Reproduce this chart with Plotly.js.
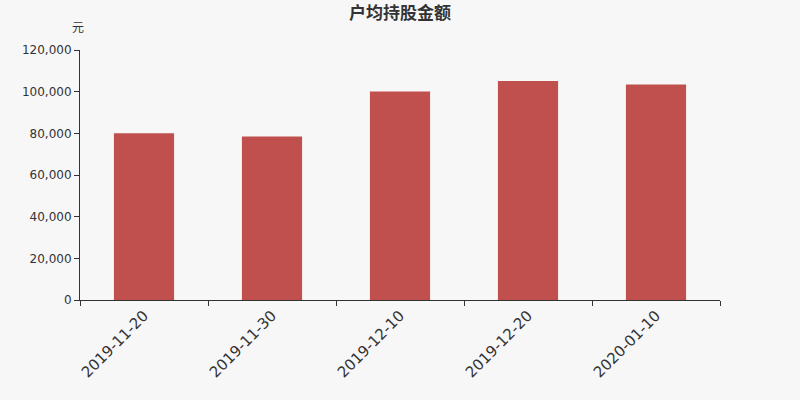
<!DOCTYPE html>
<html>
<head>
<meta charset="utf-8">
<script src="https://cdn.plot.ly/plotly-3.0.1.min.js"></script>
<style>
  html, body { margin: 0; padding: 0; background: #f7f7f7; }
  #chart { width: 800px; height: 400px; }
</style>
</head>
<body>
<div id="chart"></div>
<script>
// ===== Data =====
const dates = ['2019-11-20', '2019-11-30', '2019-12-10', '2019-12-20', '2020-01-10'];
const avgHolding = [80000, 78500, 100100, 105100, 103500];
const yTicks = [0, 20000, 40000, 60000, 80000, 100000, 120000];

const FONT = 'DejaVu Sans, Noto Sans CJK SC, sans-serif';

Plotly.newPlot('chart', [{
  x: dates,
  y: avgHolding,
  type: 'bar',
  marker: { color: '#c0504d' },
  hoverinfo: 'x+y',
}], {
  width: 800,
  height: 400,
  paper_bgcolor: '#f7f7f7',
  plot_bgcolor: '#f7f7f7',
  font: { family: FONT, color: '#333', size: 12 },
  title: {
    text: '<b>户均持股金额</b>',
    x: 0.5, xanchor: 'center',
    y: 0.967, yanchor: 'middle',
    font: { family: FONT, size: 17, color: '#333' },
  },
  margin: { l: 80, r: 80, t: 50, b: 100 },
  bargap: 0.53,
  showlegend: false,
  xaxis: {
    type: 'category',
    showline: true, linecolor: '#333', linewidth: 1,
    ticks: 'outside', tickson: 'boundaries', ticklen: 5, tickcolor: '#333',
    tickangle: -45,
    tickfont: { size: 15, color: '#333' },
    showgrid: false, zeroline: false,
  },
  yaxis: {
    range: [0, 120000],
    tickvals: yTicks,
    tickformat: ',d',
    showline: true, linecolor: '#333', linewidth: 1,
    ticks: 'outside', ticklen: 5, tickcolor: '#333',
    tickfont: { size: 12, color: '#333' },
    showgrid: false, zeroline: false,
  },
  annotations: [{
    text: '元',
    xref: 'paper', yref: 'paper',
    x: 0, y: 1, xshift: -2, yshift: 22,
    xanchor: 'center', yanchor: 'middle',
    showarrow: false,
    font: { family: FONT, size: 12, color: '#333' },
  }],
}, { displayModeBar: false });
</script>
</body>
</html>
